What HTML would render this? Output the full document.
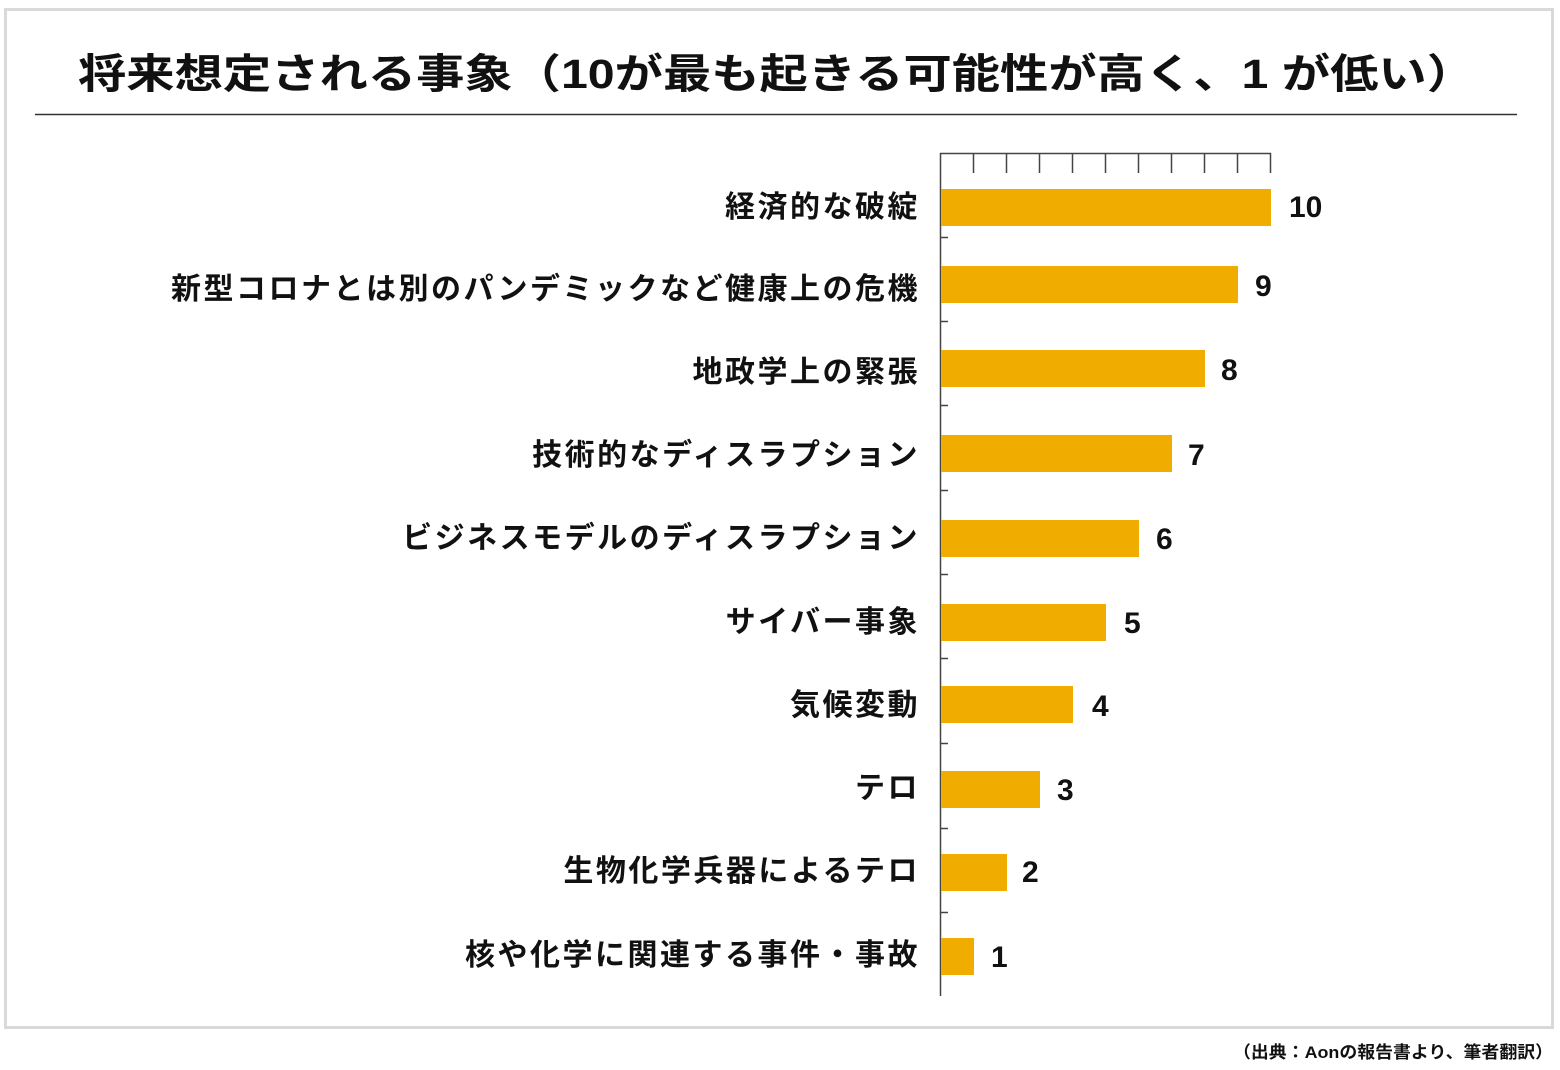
<!DOCTYPE html>
<html><head><meta charset="utf-8"><style>
html,body{margin:0;padding:0;background:#fff;}
svg{display:block;}
text{font-family:"Liberation Sans","Noto Sans CJK JP",sans-serif;font-weight:bold;fill:#111;}
.lb text{letter-spacing:2.5px;}
</style></head><body>
<svg width="1560" height="1070" viewBox="0 0 1560 1070" xmlns="http://www.w3.org/2000/svg">
<rect x="5.5" y="9.5" width="1547" height="1018" fill="#fff" stroke="#d9d9d9" stroke-width="3"/>
<text x="78" y="88" font-size="41" textLength="1397" lengthAdjust="spacingAndGlyphs">将来想定される事象（10が最も起きる可能性が高く、1 が低い）</text>
<line x1="35" y1="114.5" x2="1517" y2="114.5" stroke="#333" stroke-width="1.5"/>
<g stroke="#444" stroke-width="1.5">
<line x1="940.5" y1="153" x2="940.5" y2="996"/>
<line x1="940" y1="153.5" x2="1271" y2="153.5"/>
<line x1="973.5" y1="153" x2="973.5" y2="173"/><line x1="1006.5" y1="153" x2="1006.5" y2="173"/>
<line x1="1039.5" y1="153" x2="1039.5" y2="173"/><line x1="1072.5" y1="153" x2="1072.5" y2="173"/>
<line x1="1105.5" y1="153" x2="1105.5" y2="173"/><line x1="1138.5" y1="153" x2="1138.5" y2="173"/>
<line x1="1171.5" y1="153" x2="1171.5" y2="173"/><line x1="1204.5" y1="153" x2="1204.5" y2="173"/>
<line x1="1237.5" y1="153" x2="1237.5" y2="173"/><line x1="1270.5" y1="153" x2="1270.5" y2="173"/>
<line x1="940" y1="237.5" x2="948" y2="237.5"/><line x1="940" y1="321.5" x2="948" y2="321.5"/>
<line x1="940" y1="405.5" x2="948" y2="405.5"/><line x1="940" y1="490.5" x2="948" y2="490.5"/>
<line x1="940" y1="574.5" x2="948" y2="574.5"/><line x1="940" y1="658.5" x2="948" y2="658.5"/>
<line x1="940" y1="743.5" x2="948" y2="743.5"/><line x1="940" y1="828.5" x2="948" y2="828.5"/>
<line x1="940" y1="912.5" x2="948" y2="912.5"/>
</g>
<g fill="#f0ad00">
<rect x="941" y="189" width="330" height="37"/>
<rect x="941" y="266" width="297" height="37"/>
<rect x="941" y="350" width="264" height="37"/>
<rect x="941" y="435" width="231" height="37"/>
<rect x="941" y="520" width="198" height="37"/>
<rect x="941" y="604" width="165" height="37"/>
<rect x="941" y="686" width="132" height="37"/>
<rect x="941" y="771" width="99" height="37"/>
<rect x="941" y="854" width="66" height="37"/>
<rect x="941" y="938" width="33" height="37"/>
</g>
<g font-size="30" text-anchor="end" class="lb">
<text x="920" y="217">経済的な破綻</text>
<text x="920" y="299">新型コロナとは別のパンデミックなど健康上の危機</text>
<text x="920" y="382">地政学上の緊張</text>
<text x="920" y="465">技術的なディスラプション</text>
<text x="920" y="548">ビジネスモデルのディスラプション</text>
<text x="920" y="632">サイバー事象</text>
<text x="920" y="715">気候変動</text>
<text x="920" y="798">テロ</text>
<text x="920" y="881">生物化学兵器によるテロ</text>
<text x="920" y="965">核や化学に関連する事件・事故</text>
</g>
<g font-size="30">
<text x="1289" y="217">10</text>
<text x="1255" y="296">9</text>
<text x="1221" y="380">8</text>
<text x="1188" y="465">7</text>
<text x="1156" y="549">6</text>
<text x="1124" y="633">5</text>
<text x="1092" y="716">4</text>
<text x="1057" y="800">3</text>
<text x="1022" y="882">2</text>
<text x="991" y="967">1</text>
</g>
<text x="1233" y="1058" font-size="17" textLength="320" lengthAdjust="spacingAndGlyphs">（出典：Aonの報告書より、筆者翻訳）</text>
</svg>
</body></html>
